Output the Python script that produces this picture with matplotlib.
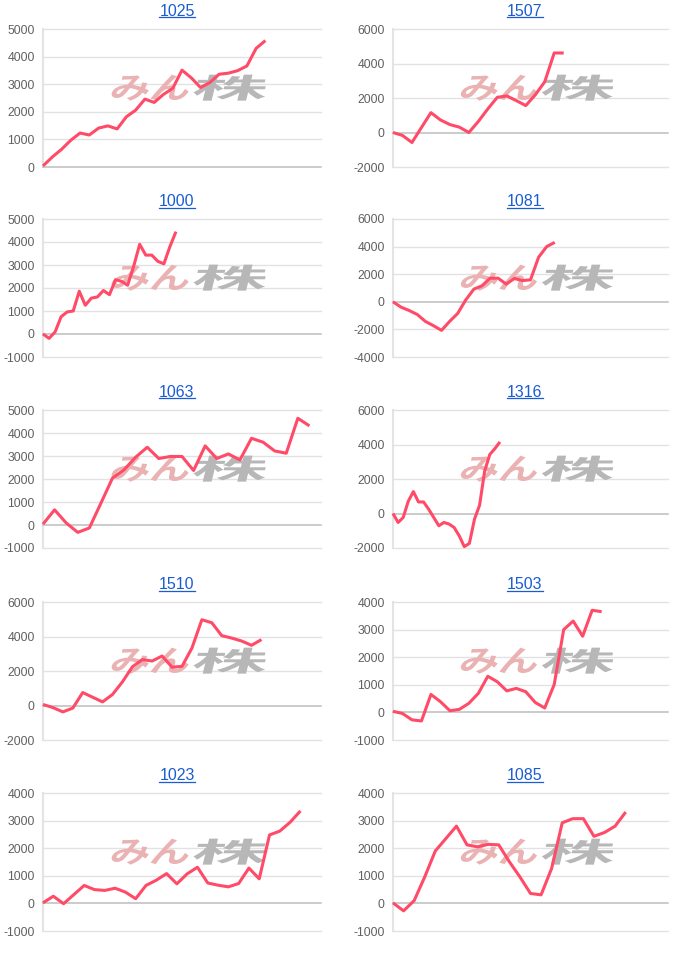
import matplotlib
matplotlib.use('Agg')
import matplotlib.pyplot as plt
from matplotlib.textpath import TextPath
from matplotlib.font_manager import FontProperties
from matplotlib.patches import PathPatch
from matplotlib.transforms import Affine2D
from matplotlib.lines import Line2D

# ---------------- data ----------------
titles = ["1025", "1507", "1000", "1081", "1063", "1316", "1510", "1503", "1023", "1085"]

s1025 = [40, 360, 640, 970, 1230, 1160, 1410, 1490, 1380, 1820, 2060, 2460, 2340, 2630,
         2850, 3510, 3230, 2880, 3060, 3360, 3400, 3490, 3660, 4300, 4580]
s1507 = [0, -170, -580, 290, 1150, 730, 460, 310, 0, 640, 1370, 2040, 2120, 1850, 1560,
         2180, 2940, 4610, 4610]
s1000 = [0, -190, 90, 750, 960, 1000, 1860, 1250, 1560, 1610, 1890, 1710, 2360, 2290,
         2120, 2940, 3900, 3430, 3430, 3160, 3050, 3800, 4450]
s1081 = [0, -390, -630, -920, -1420, -1730, -2070, -1420, -840, 140, 920, 1160, 1710,
         1710, 1280, 1690, 1540, 1590, 3230, 4000, 4310]
s1063 = [40, 660, 90, -320, -130, 950, 2040, 2400, 2950, 3380, 2890, 2980, 2980, 2370,
         3440, 2890, 3090, 2830, 3770, 3600, 3220, 3120, 4640, 4310]
s1316 = [0, -520, -230, 710, 1270, 670, 670, 250, -230, -710, -520, -610, -810, -1290,
         -1920, -1730, -330, 480, 2460, 3420, 3760, 4150]
s1510 = [60, -120, -370, -150, 750, 480, 210, 640, 1370, 2240, 2660, 2580, 2870, 2220,
         2270, 3330, 4970, 4800, 4050, 3910, 3740, 3490, 3820]
s1503 = [40, -40, -270, -310, 650, 390, 60, 110, 330, 690, 1310, 1110, 780, 870, 750,
         360, 160, 1010, 3000, 3310, 2760, 3700, 3650]
s1023 = [20, 260, -10, 320, 650, 500, 470, 550, 410, 170, 650, 840, 1080, 710, 1070,
         1310, 740, 660, 600, 720, 1280, 890, 2480, 2620, 2940, 3350]
s1085 = [20, -270, 100, 960, 1900, 2350, 2800, 2120, 2050, 2140, 2120, 1510, 960, 360,
         310, 1270, 2920, 3070, 3070, 2430, 2570, 2800, 3310]

series = [s1025, s1507, s1000, s1081, s1063, s1316, s1510, s1503, s1023, s1085]

yticks = [
    [0, 1000, 2000, 3000, 4000, 5000],
    [-2000, 0, 2000, 4000, 6000],
    [-1000, 0, 1000, 2000, 3000, 4000, 5000],
    [-4000, -2000, 0, 2000, 4000, 6000],
    [-1000, 0, 1000, 2000, 3000, 4000, 5000],
    [-2000, 0, 2000, 4000, 6000],
    [-2000, 0, 2000, 4000, 6000],
    [-1000, 0, 1000, 2000, 3000, 4000],
    [-1000, 0, 1000, 2000, 3000, 4000],
    [-1000, 0, 1000, 2000, 3000, 4000],
]
xslots = [30, 29, 46, 34, 24, 54, 28, 29, 27, 26]

# ---------------- layout ----------------
W, H = 700, 955
col_left = [43, 393]
col_right = [321, 668]
row_top = [29, 219, 410, 602, 793]
plot_h = 138
title_cx = [177, 525]

LINE_COLOR = '#ff4a68'
TICK_FONT = 'Liberation Sans'

fig = plt.figure(figsize=(W / 100, H / 100), dpi=100)
fig.patch.set_facecolor('white')

wm_font = FontProperties(family='Noto Sans CJK JP', weight='bold')
path_pink = TextPath((0, 0), "みん", size=100, prop=wm_font)
path_gray = TextPath((0, 0), "株", size=100, prop=wm_font)


def watermark(ax):
    pos = ax.get_position()
    ax_w = pos.width * W
    ax_x0 = pos.x0 * W
    ax_y0 = pos.y0 * H
    logo_h = 26
    cy = ax_y0 + 0.575 * plot_h
    boxes = [(path_pink, '#eab2b2', 0.255, 0.53), (path_gray, '#b7b7b7', 0.548, 0.81)]
    for p, col, fx0, fx1 in boxes:
        ext = p.get_extents()
        tw = (fx1 - fx0) * ax_w
        sx = tw / ext.width
        sy = logo_h / ext.height
        tr = (Affine2D().translate(-ext.x0, -ext.y0).scale(sx, sy)
              .skew_deg(14, 0).translate(ax_x0 + fx0 * ax_w - 4, cy - logo_h / 2))
        ax.add_patch(PathPatch(p, transform=tr, facecolor=col, edgecolor='none', zorder=1.5))


title_texts = []
for i, (name, vals, ticks, xs) in enumerate(zip(titles, series, yticks, xslots)):
    r, c = divmod(i, 2)
    l = col_left[c]
    rr = col_right[c]
    top = row_top[r]
    ax = fig.add_axes([l / W, 1 - (top + plot_h) / H, (rr - l) / W, plot_h / H])
    ax.set_facecolor('none')
    ax.set_xlim(0, xs)
    ax.set_ylim(ticks[0], ticks[-1])
    ax.set_xticks([])
    ax.set_yticks(ticks)
    ax.set_yticklabels([str(t) for t in ticks], fontfamily=TICK_FONT)
    ax.tick_params(axis='y', length=0, pad=6, labelsize=8.8, labelcolor='#606060')
    for sp in ['top', 'right', 'bottom']:
        ax.spines[sp].set_visible(False)
    ax.spines['left'].set_color('#e4e4e4')
    ax.spines['left'].set_linewidth(1.5)
    ax.spines['left'].set_zorder(0.5)
    for t in ticks:
        if t == 0:
            ax.axhline(t, color='#bdbdbd', lw=1.1, zorder=0.8, clip_on=False)
        else:
            ax.axhline(t, color='#e2e2e2', lw=1.0, zorder=0.6, clip_on=False)
    watermark(ax)
    ax.plot(range(len(vals)), vals, color=LINE_COLOR, lw=2.2, zorder=3,
            solid_joinstyle='round', solid_capstyle='butt', clip_on=False)
    baseline = top - 13.3
    t = fig.text(title_cx[c] / W, 1 - baseline / H, name, ha='center', va='baseline',
                 color='#1a5cd2', fontsize=11.5, fontfamily=TICK_FONT)
    title_texts.append(t)

fig.canvas.draw()
for t in title_texts:
    bb = t.get_window_extent()
    y = (t.get_position()[1] * H - 1.8) / H
    fig.add_artist(Line2D([bb.x0 / W, bb.x1 / W], [y, y], color='#1a5cd2', lw=0.9))

fig.savefig('out.png', dpi=100, facecolor='white')
